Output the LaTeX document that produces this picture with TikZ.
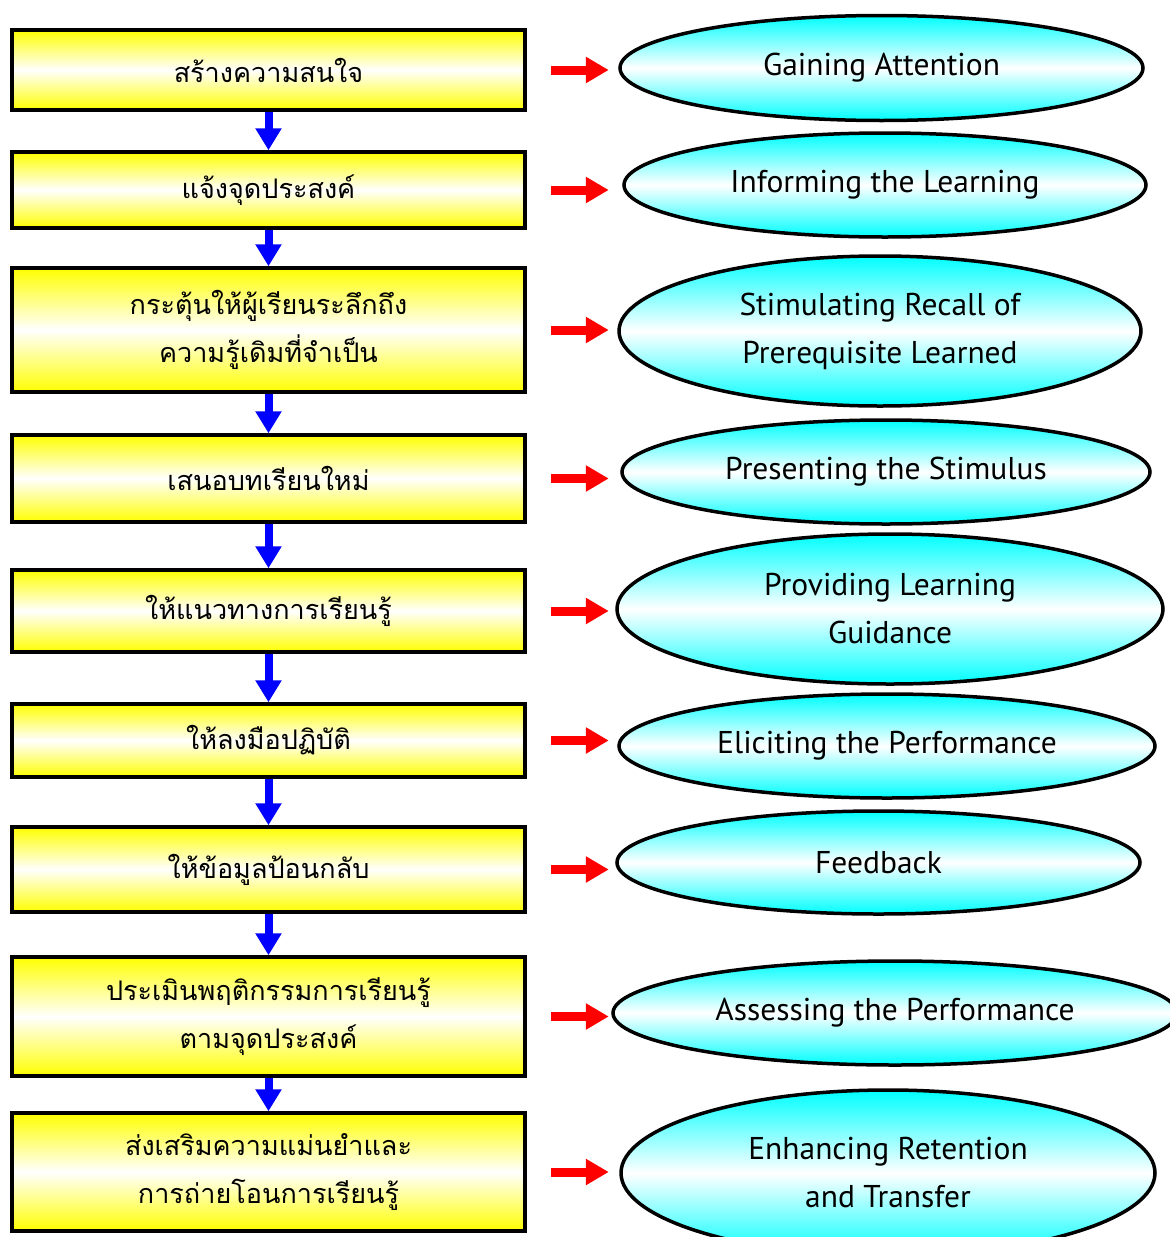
\documentclass[tikz,border=0pt]{standalone}
\usepackage{fontspec}
\usepackage{tikz}
\usetikzlibrary{arrows.meta,shapes.geometric,positioning,calc}
\newfontfamily\thaifont[Script=Thai]{Loma}
\newfontfamily\latinfont{PT Sans}
\tikzstyle{stage} = [rectangle, draw, line width=3.5pt, minimum width=513pt, align=center, inner sep=0pt]
\tikzset{flow/.style = {
    line width=8pt, blue,
    -{Triangle[width=25pt,length=22pt]},
  },
  hint/.style = {
    line width=9pt, red,
    -{Triangle[width=25pt,length=23pt]},
  }
}

\begin{document}
\begin{tikzpicture}[x=1pt, y=-1pt]
  % vertices
  \tikzstyle{box} = [stage, top color=yellow, bottom color=yellow, middle color=white, font=\thaifont\fontsize{27}{48}\selectfont]
  \tikzstyle{event} = [ellipse, draw, line width=3.5pt, top color=cyan, bottom color=cyan, middle color=white, align=center, inner sep=0pt, font=\latinfont\fontsize{31.5}{48}\selectfont]

  \useasboundingbox (0,0) rectangle (1170,1237);

  \node[box, minimum height=80pt]  (b1) at (268.5,70)    {สร้างความสนใจ};
  \node[box, minimum height=76pt]  (b2) at (268.5,190)   {แจ้งจุดประสงค์};
  \node[box, minimum height=124pt] (b3) at (268.5,330)   {กระตุ้นให้ผู้เรียนระลึกถึง\\ความรู้เดิมที่จำเป็น};
  \node[box, minimum height=87pt]  (b4) at (268.5,478.5) {เสนอบทเรียนใหม่};
  \node[box, minimum height=82pt]  (b5) at (268.5,611)   {ให้แนวทางการเรียนรู้};
  \node[box, minimum height=73pt]  (b6) at (268.5,740.5) {ให้ลงมือปฏิบัติ};
  \node[box, minimum height=85pt]  (b7) at (268.5,869.5) {ให้ข้อมูลป้อนกลับ};
  \node[box, minimum height=119pt] (b8) at (268.5,1016.5) {ประเมินพฤติกรรมการเรียนรู้\\ตามจุดประสงค์};
  \node[box, minimum height=118pt] (b9) at (268.5,1172)  {ส่งเสริมความแม่นยำและ\\การถ่ายโอนการเรียนรู้};

  \node[event, minimum width=523pt, minimum height=105pt] (e1) at (881.5,68)  {Gaining Attention};
  \node[event, minimum width=522pt, minimum height=104pt] (e2) at (885,185)   {Informing the Learning};
  \node[event, minimum width=522pt, minimum height=150pt] (e3) at (880,331)   {Stimulating Recall of\\Prerequisite Learned};
  \node[event, minimum width=528pt, minimum height=104pt] (e4) at (886,472)   {Presenting the Stimulus};
  \node[event, minimum width=546pt, minimum height=150pt] (e5) at (890,609)   {Providing Learning\\Guidance};
  \node[event, minimum width=536pt, minimum height=104pt] (e6) at (887,746)   {Eliciting the Performance};
  \node[event, minimum width=523pt, minimum height=103pt] (e7) at (878.5,862.5) {Feedback};
  \node[event, minimum width=564pt, minimum height=104pt] (e8) at (895,1013)  {Assessing the Performance};
  \node[event, minimum width=534pt, minimum height=166pt] (e9) at (888,1173)  {Enhancing Retention\\and Transfer};

  % edges
  \foreach \i/\j in {1/2,2/3,3/4,4/5,5/6,6/7,7/8,8/9}
    \draw[flow] (b\i.south) -- (b\j.north);
  \foreach \i in {1,...,9}
    \draw[hint] ([xshift=24pt]b\i.east) -- ([xshift=82pt]b\i.east);
\end{tikzpicture}
\end{document}
